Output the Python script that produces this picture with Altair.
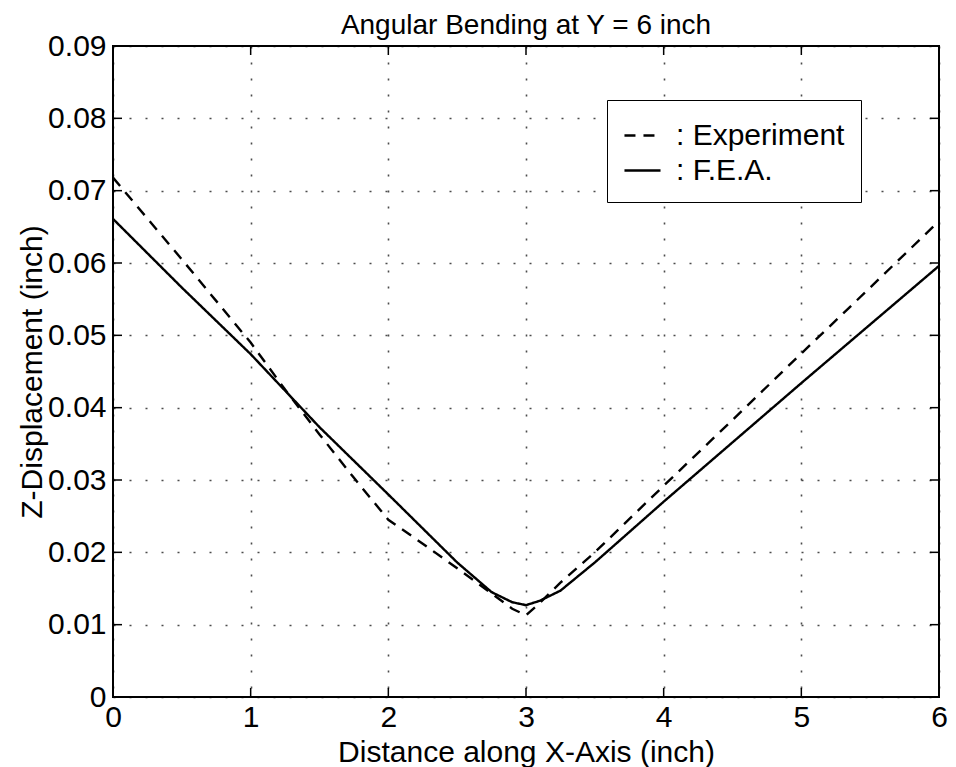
import altair as alt
import pandas as pd

exp_x = [0, 0.5, 1, 1.25, 1.5, 1.75, 2, 2.25, 2.5, 2.75, 2.9, 3, 3.1, 3.25, 3.5, 4, 4.5, 5, 5.5, 6]
exp_y = [0.0718, 0.0605, 0.0490, 0.0425, 0.0363, 0.0303, 0.0245, 0.0212, 0.0178, 0.0143, 0.0122,
         0.0113, 0.0130, 0.0158, 0.0200, 0.0292, 0.0383, 0.0475, 0.0566, 0.0658]
fea_x = [0, 0.5, 1, 1.5, 2, 2.5, 2.75, 2.9, 3, 3.1, 3.25, 3.5, 4, 4.5, 5, 5.5, 6]
fea_y = [0.0661, 0.0566, 0.0474, 0.0373, 0.0280, 0.0186, 0.0145, 0.0131, 0.0127, 0.0133,
         0.0147, 0.0186, 0.0270, 0.0352, 0.0434, 0.0515, 0.0596]
series = ["Experiment", "F.E.A."]
x_ticks = [0, 1, 2, 3, 4, 5, 6]
y_ticks = [0, 0.01, 0.02, 0.03, 0.04, 0.05, 0.06, 0.07, 0.08, 0.09]

df = pd.concat([
    pd.DataFrame({"x": exp_x, "y": exp_y, "series": series[0]}),
    pd.DataFrame({"x": fea_x, "y": fea_y, "series": series[1]}),
])
xt = pd.DataFrame({"x": x_ticks})
yt = pd.DataFrame({"y": y_ticks})

W, H = 826, 651
FONT = "Liberation Sans"
FS = 30

xscale = alt.Scale(domain=[0, 6], nice=False, zero=False)
yscale = alt.Scale(domain=[0, 0.09], nice=False, zero=False)
xaxis = alt.Axis(values=x_ticks, title="Distance along X-Axis (inch)", grid=True, format="d",
                 labelPadding=5, labelFlush=False, titleY=55, titleBaseline="middle")
yaxis = alt.Axis(values=y_ticks, title="Z-Displacement (inch)", grid=True, labelFlush=False,
                 labelExpr="datum.value == 0 ? '0' : format(datum.value, '.2f')",
                 labelPadding=7, titleX=-81, titleY=H / 2, titleAngle=-90,
                 titleAlign="center", titleBaseline="middle")

lines = alt.Chart(df).mark_line(color="black", strokeWidth=2.4).encode(
    x=alt.X("x:Q", scale=xscale, axis=xaxis),
    y=alt.Y("y:Q", scale=yscale, axis=yaxis),
    strokeDash=alt.StrokeDash("series:N", scale=alt.Scale(domain=series, range=[[11, 8], [1, 0]]),
                              legend=alt.Legend(
                                  title=None, orient="none", legendX=494, legendY=54,
                                  symbolType="stroke", symbolSize=1300, symbolStrokeWidth=2.4,
                                  symbolStrokeColor="black", labelFontSize=FS, labelFont=FONT,
                                  labelColor="black", labelOffset=14, rowPadding=0,
                                  labelLimit=400,
                                  labelExpr="': ' + datum.label",
                                  padding=16, strokeColor="black",
                                  fillColor="white")),
)

tick_len = 9
xb = alt.Chart(xt).mark_rule(color="black", strokeWidth=1.5).encode(
    x=alt.X("x:Q", scale=xscale, axis=xaxis), y=alt.value(H), y2=alt.value(H - tick_len))
xtop = alt.Chart(xt).mark_rule(color="black", strokeWidth=1.5).encode(
    x=alt.X("x:Q", scale=xscale, axis=xaxis), y=alt.value(0), y2=alt.value(tick_len))
yl = alt.Chart(yt).mark_rule(color="black", strokeWidth=1.5).encode(
    y=alt.Y("y:Q", scale=yscale, axis=yaxis), x=alt.value(0), x2=alt.value(tick_len))
yr = alt.Chart(yt).mark_rule(color="black", strokeWidth=1.5).encode(
    y=alt.Y("y:Q", scale=yscale, axis=yaxis), x=alt.value(W), x2=alt.value(W - tick_len))

chart = alt.layer(lines, xb, xtop, yl, yr).properties(
    width=W, height=H,
    background="white",
    title=alt.TitleParams("Angular Bending at Y = 6 inch", fontSize=28, font=FONT,
                          fontWeight="normal", color="black", anchor="middle",
                          offset=11, dy=20),
    autosize=alt.AutoSizeParams(type="none"),
    padding={"left": 105, "top": 38, "right": 9, "bottom": 70},
).configure_axis(
    labelFont=FONT, labelFontSize=FS, labelColor="black",
    titleFont=FONT, titleFontSize=FS, titleFontWeight="normal", titleColor="black",
    domain=False, ticks=False,
    gridColor="black", gridDash=[2, 14], gridWidth=1.6, gridOpacity=0.7,
).configure_view(
    stroke="black", strokeWidth=2,
)

chart.save("out.html", embed_options={"renderer": "svg", "actions": False})
